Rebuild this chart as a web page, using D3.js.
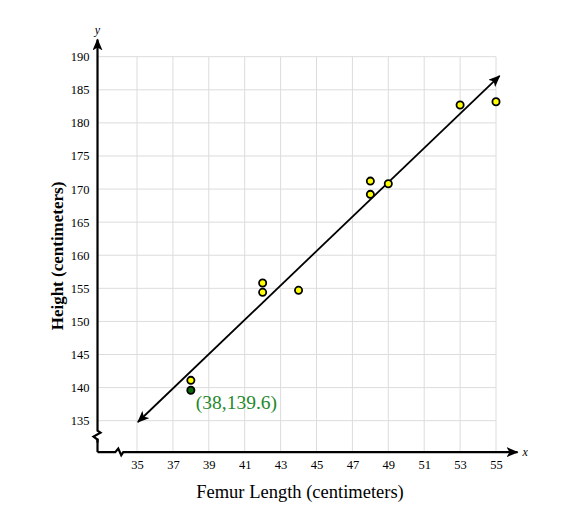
<!DOCTYPE html>
<html>
<head>
<meta charset="utf-8">
<script src="https://cdn.jsdelivr.net/npm/d3@7"></script>
<style>
  body { margin: 0; background: #fff; }
  svg { display: block; }
  text { font-family: "Liberation Serif", "DejaVu Serif", serif; }
</style>
</head>
<body>
<svg id="chart" width="588" height="515"></svg>
<script>
// data
var femur  = [38, 42, 42, 44, 48, 48, 49, 53, 55];
var height = [141.1, 155.8, 154.4, 154.7, 171.2, 169.2, 170.8, 182.7, 183.2];
var highlight = { x: 38, y: 139.6, label: "(38,139.6)" };
var fitLine = [[35.05, 134.8], [55.2, 187.1]];
var xTicks = [35, 37, 39, 41, 43, 45, 47, 49, 51, 53, 55];
var yTicks = [135, 140, 145, 150, 155, 160, 165, 170, 175, 180, 185, 190];

var svg = d3.select("#chart");

var x = d3.scaleLinear().domain([35, 55]).range([137, 496]);
var y = d3.scaleLinear().domain([135, 190]).range([420.7, 56.7]);

var axisX = x(32.8);   // where the y axis sits
var axisY = y(130.25); // where the x axis sits

// arrow heads
var defs = svg.append("defs");
defs.append("marker")
    .attr("id", "arr")
    .attr("viewBox", "0 0 12 10")
    .attr("refX", 11).attr("refY", 5)
    .attr("markerWidth", 12).attr("markerHeight", 10)
    .attr("markerUnits", "userSpaceOnUse")
    .attr("orient", "auto-start-reverse")
  .append("path")
    .attr("d", "M0,0 L12,5 L0,10 L3,5 Z")
    .attr("fill", "#000");

// grid
var grid = svg.append("g").attr("class", "grid");
grid.selectAll("line.h").data(yTicks).enter().append("line")
    .attr("x1", axisX).attr("x2", x(55))
    .attr("y1", function(d) { return y(d); })
    .attr("y2", function(d) { return y(d); })
    .attr("stroke", "#dcdcdc").attr("stroke-width", 1);
grid.selectAll("line.v").data(xTicks).enter().append("line")
    .attr("x1", function(d) { return x(d); })
    .attr("x2", function(d) { return x(d); })
    .attr("y1", y(190)).attr("y2", axisY)
    .attr("stroke", "#dcdcdc").attr("stroke-width", 1);

// tick labels via d3 axes (no domain, no tick marks)
var gx = svg.append("g")
    .attr("transform", "translate(0," + (axisY + 5) + ")")
    .call(d3.axisBottom(x).tickValues(xTicks).tickSize(0).tickFormat(d3.format("d")));
var gy = svg.append("g")
    .attr("transform", "translate(" + (axisX - 5) + ",0)")
    .call(d3.axisLeft(y).tickValues(yTicks).tickSize(0).tickFormat(d3.format("d")));
[gx, gy].forEach(function(g) {
  g.select(".domain").remove();
  g.selectAll("text")
    .attr("font-family", "Liberation Serif, DejaVu Serif, serif")
    .attr("font-size", 12.5)
    .attr("fill", "#000");
});

// axes with breaks
var yb = y(133.2);
svg.append("path")
    .attr("d", "M" + axisX + "," + (yb + 10) +
               " L" + axisX + "," + (yb + 7) +
               " L" + (axisX - 4) + "," + (yb + 4) +
               " L" + (axisX + 3) + "," + yb +
               " L" + axisX + "," + (yb - 2) +
               " L" + axisX + "," + y(192.6))
    .attr("fill", "none").attr("stroke", "#000").attr("stroke-width", 2.2)
    .attr("marker-end", "url(#arr)");
svg.append("path")
    .attr("d", "M" + axisX + "," + (yb + 6) + " L" + axisX + "," + axisY)
    .attr("stroke", "#000").attr("stroke-width", 2.2);

var xb = x(33.9);
svg.append("path")
    .attr("d", "M" + axisX + "," + axisY +
               " L" + (xb - 2) + "," + axisY +
               " L" + (xb + 1) + "," + (axisY - 3.5) +
               " L" + (xb + 4) + "," + (axisY + 3) +
               " L" + (xb + 6) + "," + axisY +
               " L" + x(56.2) + "," + axisY)
    .attr("fill", "none").attr("stroke", "#000").attr("stroke-width", 2.2)
    .attr("marker-end", "url(#arr)");

svg.append("text").attr("x", axisX).attr("y", y(193.5))
    .attr("text-anchor", "middle").attr("font-style", "italic")
    .attr("font-size", 12).text("y");
svg.append("text").attr("x", x(56.2) + 5).attr("y", axisY + 4)
    .attr("font-style", "italic").attr("font-size", 12).text("x");

// fit line
svg.append("line")
    .attr("x1", x(fitLine[0][0])).attr("y1", y(fitLine[0][1]))
    .attr("x2", x(fitLine[1][0])).attr("y2", y(fitLine[1][1]))
    .attr("stroke", "#000").attr("stroke-width", 1.8)
    .attr("marker-start", "url(#arr)")
    .attr("marker-end", "url(#arr)");

// data points
svg.append("g").selectAll("circle")
    .data(femur)
    .enter().append("circle")
    .attr("cx", function(d) { return x(d); })
    .attr("cy", function(d, i) { return y(height[i]); })
    .attr("r", 3.6)
    .attr("fill", "#ffff00")
    .attr("stroke", "#000").attr("stroke-width", 1.8);

svg.append("circle")
    .attr("cx", x(highlight.x)).attr("cy", y(highlight.y))
    .attr("r", 3.6)
    .attr("fill", "#0a6b0a")
    .attr("stroke", "#000").attr("stroke-width", 1.8);
svg.append("text")
    .attr("x", x(highlight.x) + 5).attr("y", y(highlight.y) + 19)
    .attr("font-size", 19.5).attr("fill", "#23882a")
    .text(highlight.label);

// axis titles
svg.append("text")
    .attr("x", 300).attr("y", 498)
    .attr("text-anchor", "middle").attr("font-size", 18.5)
    .text("Femur Length (centimeters)");
svg.append("text")
    .attr("transform", "translate(63,256) rotate(-90)")
    .attr("text-anchor", "middle").attr("font-size", 17).attr("font-weight", "bold")
    .text("Height (centimeters)");
</script>
</body>
</html>
